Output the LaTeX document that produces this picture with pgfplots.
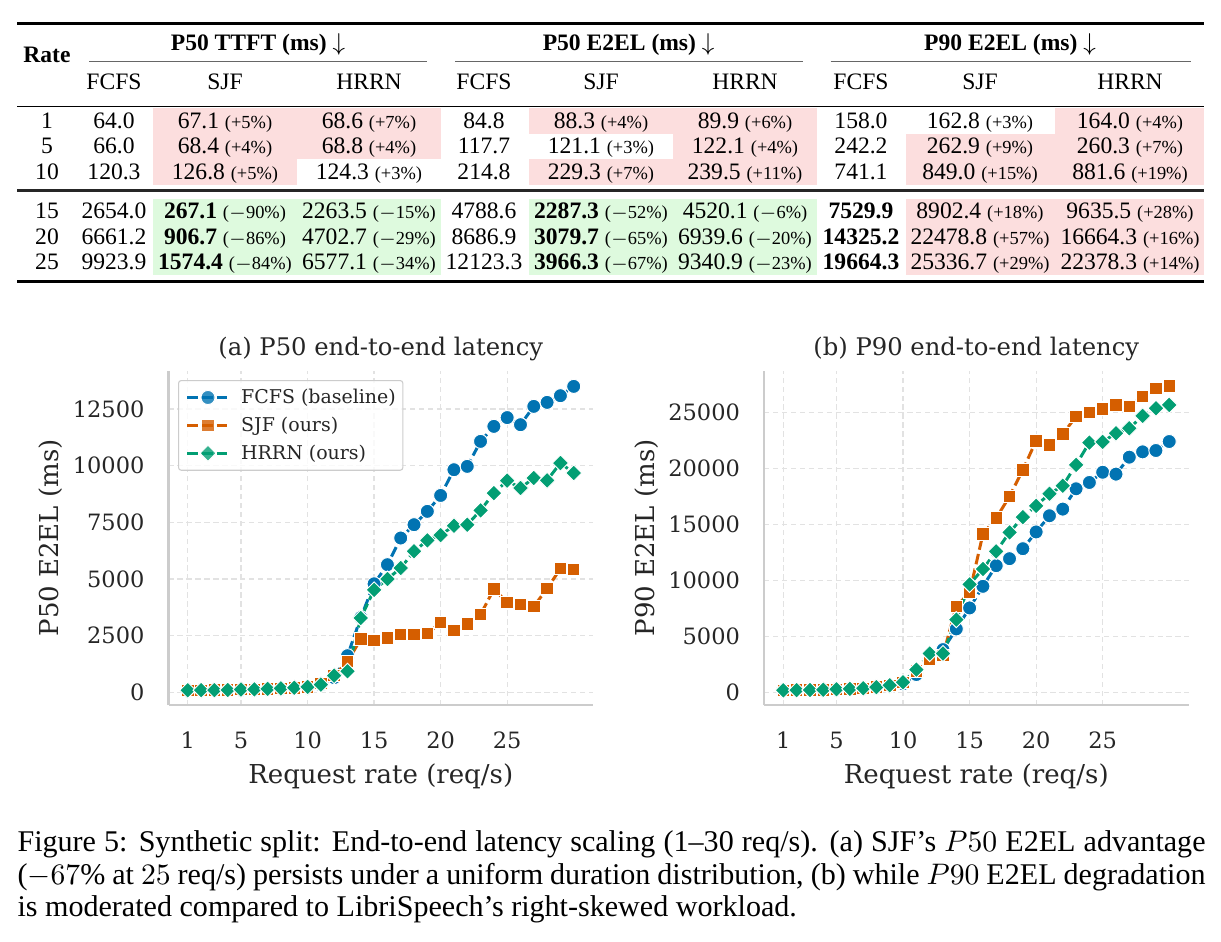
\documentclass[border=0pt]{standalone}
\usepackage{pgfplots}
\pgfplotsset{compat=1.18}
\usepackage{fontspec}
\setmainfont{Liberation Serif}
\newfontfamily\dejavu{DejaVu Serif}
\definecolor{cfcfs}{HTML}{0173B2}
\definecolor{csjf}{HTML}{D55E00}
\definecolor{chrrn}{HTML}{029E73}
\definecolor{pinkc}{RGB}{252,222,222}
\definecolor{greenc}{RGB}{222,250,222}
\definecolor{axtext}{HTML}{262626}
\definecolor{spine}{HTML}{CCCCCC}
\definecolor{gridc}{HTML}{E2E2E2}
\newcommand{\tf}{\fontsize{8.7}{10}\selectfont}
\newcommand{\pc}[1]{{\fontsize{6.8}{8}\selectfont(#1\%)}}
\newcommand{\mn}{$-$}
\newcommand{\rowA}[5]{%
 \node[anchor=base] at (47,#1) {#2};
 \node[anchor=base] at (114,#1) {#3};
 \node[anchor=base] at (225,#1) {#4};
 \node[anchor=base] at (369,#1) {#5};}
\newcommand{\rowB}[4]{%
 \node[anchor=base] at (484,#1) {#2};
 \node[anchor=base] at (601,#1) {#3};
 \node[anchor=base] at (745,#1) {#4};}
\newcommand{\rowC}[4]{%
 \node[anchor=base] at (861,#1) {#2};
 \node[anchor=base] at (980,#1) {#3};
 \node[anchor=base] at (1130,#1) {#4};}
\pgfplotsset{
 myax/.style={
  scale only axis, width=156.64pt, height=123.43pt,
  xmin=-0.45, xmax=31.45,
  axis lines*=left,
  axis line style={draw=spine, line width=0.75pt},
  xtick={1,5,10,15,20,25}, xticklabels={1,5,10,15,20,25},
  scaled y ticks=false, scaled x ticks=false,
  major tick length=0pt,
  grid=major, grid style={gridc, line width=0.45pt, dash pattern=on 2pt off 1.3pt},
  tick label style={font=\dejavu\fontsize{8.3}{10}\selectfont, text=axtext},
  xticklabel style={anchor=center, yshift=-12.9pt},
  yticklabel style={anchor=east, inner xsep=0pt, xshift=-8.7pt},
  label style={font=\dejavu\fontsize{9.6}{11}\selectfont, text=axtext},
  xlabel style={at={(axis description cs:0.5,-0.214)}, anchor=center},
  ylabel style={at={(axis description cs:-0.277,0.5)}, anchor=center},
  title style={font=\dejavu\fontsize{8.95}{11}\selectfont, text=axtext, at={(axis description cs:0.5,1.067)}, anchor=center, yshift=-6.5pt},
  xlabel={Request rate (req/s)},
  legend image code/.code={\draw[mark repeat=2,mark phase=2] plot coordinates {(0pt,0pt) (7.7pt,0pt) (15.4pt,0pt)};},
  clip=false,
 },
 sfcfs/.style={cfcfs, line width=1.1pt, dash pattern=on 3.9pt off 1.6pt, mark=*, mark size=2.6pt, mark options={solid, draw=white, fill=cfcfs, line width=0.35pt}},
 ssjf/.style={csjf, line width=1.1pt, dash pattern=on 3.9pt off 1.6pt, mark=square*, mark size=2.3pt, mark options={solid, draw=white, fill=csjf, line width=0.35pt}},
 shrrn/.style={chrrn, line width=1.1pt, dash pattern=on 3.9pt off 1.6pt, mark=square*, mark size=2.1pt, mark options={solid, rotate=45, draw=white, fill=chrrn, line width=0.35pt}},
}
\begin{document}
\begin{tikzpicture}
\useasboundingbox (0,0) rectangle (450.55pt,-347.6pt);
\begin{scope}[x=0.369pt, y=-0.369pt, font=\tf]
% cell backgrounds
\fill[pinkc] (153,108.3) rectangle (297,185);
\fill[pinkc] (297,108.3) rectangle (440.7,159);
\fill[pinkc] (529.3,108.3) rectangle (673.3,133.6);
\fill[pinkc] (529.3,159) rectangle (673.3,185);
\fill[pinkc] (673.3,108.3) rectangle (816.5,185);
\fill[pinkc] (906,133.6) rectangle (1055,185);
\fill[pinkc] (1055,108.3) rectangle (1204.3,185);
\fill[greenc] (153,199) rectangle (440.7,275);
\fill[greenc] (529.3,199) rectangle (816.5,275);
\fill[pinkc] (906,199) rectangle (1204.3,275);
% rules
\draw[line width=1pt] (17,23.3) -- (1204.3,23.3);
\draw[line width=0.5pt, black!60] (89,61.7) -- (427,61.7);
\draw[line width=0.5pt, black!60] (455,61.7) -- (802.5,61.7);
\draw[line width=0.5pt, black!60] (830.5,61.7) -- (1191,61.7);
\draw[line width=0.55pt] (17,106.7) -- (1204.3,106.7);
\draw[line width=0.9pt, black!85] (17,190.5) -- (1204.3,190.5);
\draw[line width=1pt] (17,281.7) -- (1204.3,281.7);
% headers
\node[anchor=base, font=\tf\bfseries] at (47,62.5) {Rate};
\node[anchor=base, font=\tf\bfseries] at (258,50.8) {P50 TTFT (ms) $\downarrow$};
\node[anchor=base, font=\tf\bfseries] at (628.6,50.8) {P50 E2EL (ms) $\downarrow$};
\node[anchor=base, font=\tf\bfseries] at (1010,50.8) {P90 E2EL (ms) $\downarrow$};
\node[anchor=base] at (114,89.2) {FCFS};
\node[anchor=base] at (225,89.2) {SJF};
\node[anchor=base] at (369,89.2) {HRRN};
\node[anchor=base] at (484,89.2) {FCFS};
\node[anchor=base] at (601,89.2) {SJF};
\node[anchor=base] at (745,89.2) {HRRN};
\node[anchor=base] at (861,89.2) {FCFS};
\node[anchor=base] at (980,89.2) {SJF};
\node[anchor=base] at (1130,89.2) {HRRN};
% rows
\rowA{128.5}{1}{64.0}{67.1 \pc{+5}}{68.6 \pc{+7}}
\rowB{128.5}{84.8}{88.3 \pc{+4}}{89.9 \pc{+6}}
\rowC{128.5}{158.0}{162.8 \pc{+3}}{164.0 \pc{+4}}
\rowA{153.5}{5}{66.0}{68.4 \pc{+4}}{68.8 \pc{+4}}
\rowB{153.5}{117.7}{121.1 \pc{+3}}{122.1 \pc{+4}}
\rowC{153.5}{242.2}{262.9 \pc{+9}}{260.3 \pc{+7}}
\rowA{179}{10}{120.3}{126.8 \pc{+5}}{124.3 \pc{+3}}
\rowB{179}{214.8}{229.3 \pc{+7}}{239.5 \pc{+11}}
\rowC{179}{741.1}{849.0 \pc{+15}}{881.6 \pc{+19}}
\rowA{218.5}{15}{2654.0}{\textbf{267.1} \pc{\mn90}}{2263.5 \pc{\mn15}}
\rowB{218.5}{4788.6}{\textbf{2287.3} \pc{\mn52}}{4520.1 \pc{\mn6}}
\rowC{218.5}{\textbf{7529.9}}{8902.4 \pc{+18}}{9635.5 \pc{+28}}
\rowA{244}{20}{6661.2}{\textbf{906.7} \pc{\mn86}}{4702.7 \pc{\mn29}}
\rowB{244}{8686.9}{\textbf{3079.7} \pc{\mn65}}{6939.6 \pc{\mn20}}
\rowC{244}{\textbf{14325.2}}{22478.8 \pc{+57}}{16664.3 \pc{+16}}
\rowA{269.3}{25}{9923.9}{\textbf{1574.4} \pc{\mn84}}{6577.1 \pc{\mn34}}
\rowB{269.3}{12123.3}{\textbf{3966.3} \pc{\mn67}}{9340.9 \pc{\mn23}}
\rowC{269.3}{\textbf{19664.3}}{25336.7 \pc{+29}}{22378.3 \pc{+14}}
\end{scope}

% left plot
\begin{axis}[myax, at={(62.18pt,-260.15pt)}, anchor=south west,
  ymin=-560, ymax=14200,
  ytick={0,2500,5000,7500,10000,12500}, yticklabels={0,2500,5000,7500,10000,12500},
  ylabel={P50 E2EL (ms)}, title={(a) P50 end-to-end latency},
  legend style={at={(axis description cs:0.0224,0.9716)}, anchor=north west, draw=spine, fill=white, fill opacity=0.8, text opacity=1, line width=0.4pt, rounded corners=1pt, font=\dejavu\fontsize{7.0}{8.5}\selectfont, text=axtext, inner xsep=2.6pt, inner ysep=2.5pt, row sep=2.8pt, column sep=0pt, nodes={inner sep=0pt, text height=6pt, text depth=1.5pt}},
  legend cell align=left,
  legend entries={\hspace{4pt}FCFS (baseline),\hspace{4pt}SJF (ours),\hspace{4pt}HRRN (ours)},
]
\addplot[sfcfs] coordinates {(1,84.8)(2,88)(3,92)(4,100)(5,117.7)(6,125)(7,140)(8,160)(9,185)(10,214.8)(11,330)(12,650)(13,1617)(14,3300)(15,4788.6)(16,5632)(17,6809)(18,7397)(19,7985)(20,8686.9)(21,9823)(22,9970)(23,11073)(24,11735)(25,12123.3)(26,11809)(27,12618)(28,12794)(29,13088)(30,13500)};
\addplot[ssjf] coordinates {(1,88.3)(2,92)(3,96)(4,105)(5,121.1)(6,130)(7,148)(8,170)(9,195)(10,229.3)(11,380)(12,750)(13,1350)(14,2353)(15,2287.3)(16,2397)(17,2544)(18,2560)(19,2590)(20,3079.7)(21,2735)(22,3015)(23,3426)(24,4559)(25,3966.3)(26,3868)(27,3794)(28,4574)(29,5456)(30,5412)};
\addplot[shrrn] coordinates {(1,89.9)(2,93)(3,97)(4,106)(5,122.1)(6,132)(7,150)(8,175)(9,200)(10,239.5)(11,338)(12,735)(13,926)(14,3280)(15,4520.1)(16,5000)(17,5485)(18,6221)(19,6706)(20,6939.6)(21,7353)(22,7397)(23,8029)(24,8794)(25,9340.9)(26,9015)(27,9456)(28,9353)(29,10118)(30,9676)};
\end{axis}

% right plot
\begin{axis}[myax, at={(281.92pt,-260.15pt)}, anchor=south west,
  ymin=-1150, ymax=28760,
  ytick={0,5000,10000,15000,20000,25000}, yticklabels={0,5000,10000,15000,20000,25000},
  ylabel={P90 E2EL (ms)}, title={(b) P90 end-to-end latency},
]
\addplot[sfcfs] coordinates {(1,158.0)(2,170)(3,185)(4,210)(5,242.2)(6,280)(7,330)(8,420)(9,550)(10,741.1)(11,1577)(12,2900)(13,3800)(14,5654)(15,7529.9)(16,9464)(17,11309)(18,11934)(19,12827)(20,14325.2)(21,15773)(22,16368)(23,18184)(24,18749)(25,19664.3)(26,19494)(27,21011)(28,21487)(29,21606)(30,22410)};
\addplot[ssjf] coordinates {(1,162.8)(2,175)(3,190)(4,215)(5,262.9)(6,300)(7,350)(8,450)(9,600)(10,849.0)(11,1900)(12,2900)(13,3300)(14,7678)(15,8902.4)(16,14136)(17,15565)(18,17499)(19,19880)(20,22478.8)(21,22112)(22,23094)(23,24642)(24,25000)(25,25336.7)(26,25684)(27,25535)(28,26428)(29,27172)(30,27380)};
\addplot[shrrn] coordinates {(1,164.0)(2,175)(3,190)(4,215)(5,260.3)(6,300)(7,350)(8,450)(9,620)(10,881.6)(11,2024)(12,3452)(13,3452)(14,6488)(15,9635.5)(16,11012)(17,12589)(18,14285)(19,15654)(20,16664.3)(21,17737)(22,18451)(23,20326)(24,22320)(25,22378.3)(26,23154)(27,23600)(28,24702)(29,25386)(30,25684)};
\end{axis}

% caption
\node[anchor=north west, inner sep=0pt, text width=438.4pt, align=justify, font=\fontsize{11.1}{12}\selectfont] at (6.27pt,-306.4pt) {Figure 5: Synthetic split: End-to-end latency scaling (1–30 req/s). (a) SJF’s $P50$ E2EL advantage\linebreak ($-67\%$ at $25$ req/s) persists under a uniform duration distribution, (b) while $P90$ E2EL degradation\linebreak is moderated compared to LibriSpeech’s right-skewed workload.};
\end{tikzpicture}
\end{document}
